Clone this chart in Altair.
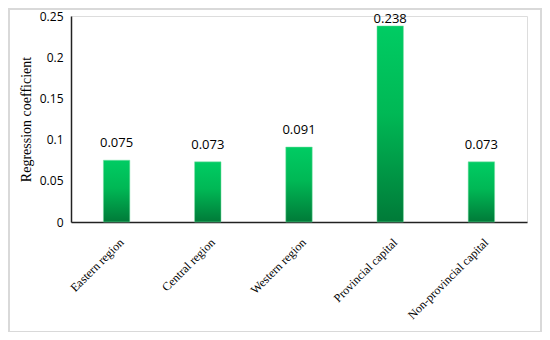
import altair as alt
import pandas as pd

categories = ["Eastern region", "Central region", "Western region",
              "Provincial capital", "Non-provincial capital"]
values = [0.075, 0.073, 0.091, 0.238, 0.073]
labels = ["0.075", "0.073", "0.091", "0.238", "0.073"]

df = pd.DataFrame({"cat": categories, "val": values, "lab": labels})

gradient = alt.Gradient(
    gradient="linear",
    stops=[alt.GradientStop(color="#00CC63", offset=0),
           alt.GradientStop(color="#00B855", offset=0.45),
           alt.GradientStop(color="#007A38", offset=1)],
    x1=0, x2=0, y1=0, y2=1,
)

x = alt.X("cat:N", sort=categories, title=None,
          scale=alt.Scale(paddingInner=0.71, paddingOuter=0.355),
          axis=alt.Axis(labelAngle=-45, labelAlign="right", labelBaseline="middle",
                        labelFont="Liberation Serif", labelFontSize=12, labelColor="#000",
                        labelPadding=18, labelOffset=5, ticks=False,
                        domainColor="#222", domainWidth=1.5, labelLimit=200))
y = alt.Y("val:Q", title="Regression coefficient",
          scale=alt.Scale(domain=[0, 0.25], nice=False),
          axis=alt.Axis(values=[0, 0.05, 0.1, 0.15, 0.2, 0.25], format="~g",
                        grid=False, ticks=False, domainColor="#222", domainWidth=1.5,
                        labelFont="Open Sans", labelFontSize=12, labelColor="#000",
                        labelPadding=8, titleFont="Liberation Serif", titleFontSize=14,
                        titleFontWeight="normal", titleColor="#000", titlePadding=6))

bars = alt.Chart(df).mark_bar(fill=gradient, stroke="#7fe0a8", strokeWidth=0.5).encode(x=x, y=y)
text = alt.Chart(df).transform_calculate(
    lpos="min(datum.val + 0.0206, 0.2464)"
).mark_text(baseline="middle", font="Open Sans", fontSize=13, color="#000").encode(
    x=alt.X("cat:N", sort=categories),
    y=alt.Y("lpos:Q", scale=alt.Scale(domain=[0, 0.25], nice=False)),
    text="lab:N")
border = alt.Chart(df).mark_rect(fill=None, stroke="#d9d9d9", strokeWidth=2).encode(
    x=alt.value(-62), x2=alt.value(470), y=alt.value(-7), y2=alt.value(316))

chart = alt.layer(border, bars, text).properties(
    width=456, height=206,
    autosize=alt.AutoSizeParams(type="none"),
    padding={"left": 63, "top": 8, "right": 15, "bottom": 110},
).configure_view(stroke=None).configure(background="white")

chart.save("out.html", embed_options={"renderer": "svg", "actions": False})
